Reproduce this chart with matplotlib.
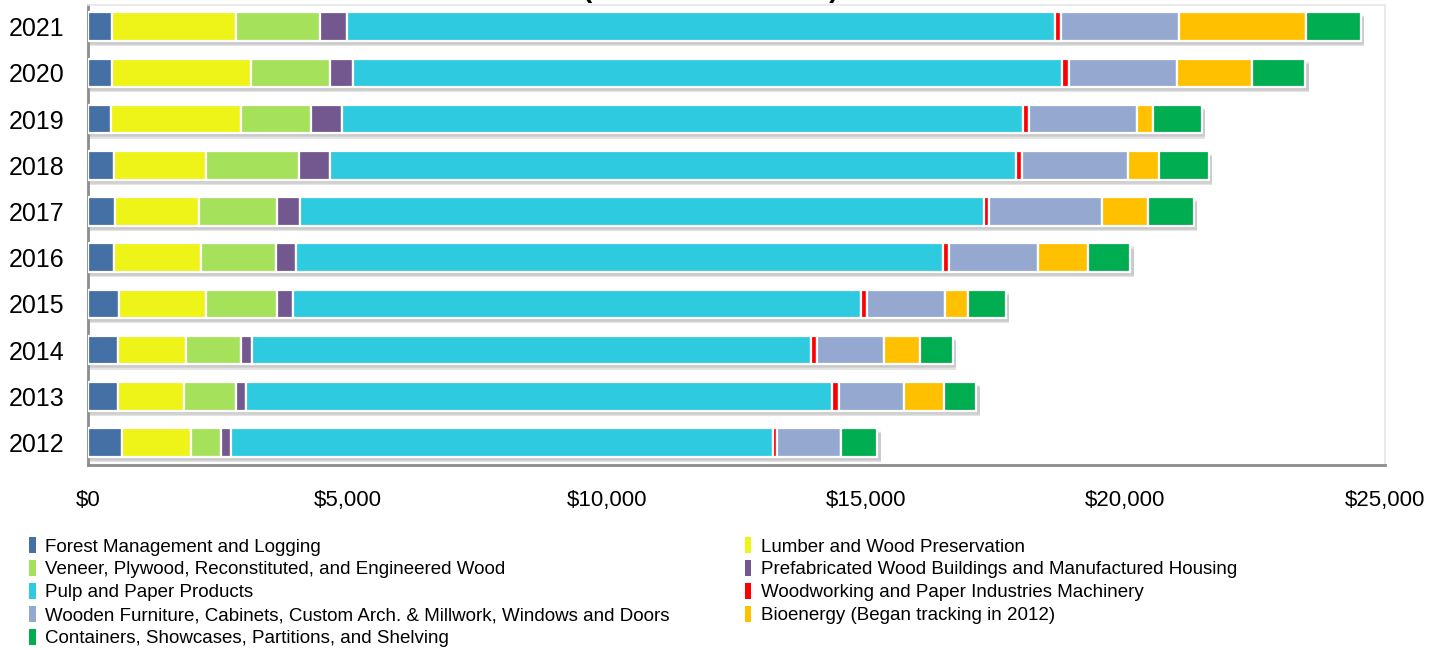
import numpy as np
import matplotlib
matplotlib.use("Agg")
import matplotlib.pyplot as plt
from matplotlib.ticker import FuncFormatter
from matplotlib.patches import Patch

plt.rcParams['font.family'] = ['Liberation Sans', 'DejaVu Sans']

years = ["2012", "2013", "2014", "2015", "2016", "2017", "2018", "2019", "2020", "2021"]

# values in $ millions (2012 -> 2021)
forest     = [656, 579, 579, 602, 502, 525, 505, 438, 469, 469]
lumber     = [1335, 1263, 1306, 1678, 1682, 1622, 1777, 2517, 2679, 2390]
veneer     = [580, 1017, 1072, 1366, 1443, 1503, 1775, 1347, 1507, 1607]
prefab     = [178, 185, 210, 309, 381, 434, 602, 598, 461, 534]
pulp       = [10447, 11306, 10764, 10950, 12471, 13186, 13238, 13121, 13667, 13648]
machinery  = [81, 121, 122, 118, 110, 105, 104, 119, 121, 116]
furniture  = [1233, 1252, 1300, 1501, 1717, 2181, 2055, 2076, 2099, 2274]
bioenergy  = [0, 776, 688, 440, 975, 874, 590, 309, 1431, 2438]
containers = [700, 621, 626, 725, 811, 885, 959, 945, 1032, 1061]

series = [forest, lumber, veneer, prefab, pulp, machinery, furniture, bioenergy, containers]
names = ["Forest Management and Logging",
         "Lumber and Wood Preservation",
         "Veneer, Plywood, Reconstituted, and Engineered Wood",
         "Prefabricated Wood Buildings and Manufactured Housing",
         "Pulp and Paper Products",
         "Woodworking and Paper Industries Machinery",
         "Wooden Furniture, Cabinets, Custom Arch. & Millwork, Windows and Doors",
         "Bioenergy (Began tracking in 2012)",
         "Containers, Showcases, Partitions, and Shelving"]
colors = ["#4470A6", "#EEF318", "#A6E15C", "#735890", "#2DCAE0",
          "#FF0000", "#95A9D0", "#FFC000", "#00AE51"]

fig = plt.figure(figsize=(14.44, 6.5), dpi=100)
ax = fig.add_axes([0.061, 0.285, 0.898, 0.708])

y = np.arange(len(years))
totals = np.sum(np.array(series), axis=0)

# soft shadow under each bar
for k, a in enumerate([0.10, 0.16, 0.22]):
    ax.barh(y - 0.06 - 0.025 * k, totals + 40, height=0.62, left=30,
            color="#808080", alpha=a, edgecolor="none", zorder=1)

left = np.zeros(len(years))
for vals, c in zip(series, colors):
    ax.barh(y, vals, left=left, height=0.62, color=c, edgecolor="white",
            linewidth=1.6, zorder=3)
    left += np.array(vals)

ax.set_xlim(0, 25000)
ax.set_ylim(-0.48, 9.48)
ax.set_yticks(y)
ax.set_yticklabels(years, fontsize=18)
ax.set_xticks([0, 5000, 10000, 15000, 20000, 25000])
ax.xaxis.set_major_formatter(FuncFormatter(lambda v, p: "${:,.0f}".format(v)))
ax.tick_params(axis="x", labelsize=16, length=0, pad=18)
ax.tick_params(axis="y", length=0, pad=17)

for s in ["top", "right"]:
    ax.spines[s].set_color("#e6e6e6")
    ax.spines[s].set_linewidth(1.2)
for s in ["left", "bottom"]:
    ax.spines[s].set_color("#8c8c8c")
    ax.spines[s].set_linewidth(2)

# title sits mostly above the top edge, as in the source image
fig.text(0.492, 1.0 + 3 / 650, "(Dollars in Millions)", ha="center", va="baseline",
         fontsize=20, fontweight="bold")

order = [0, 2, 4, 6, 8, 1, 3, 5, 7]
handles = [Patch(facecolor=colors[i], edgecolor="none") for i in order]
labels = [names[i] for i in order]
fig.legend(handles, labels, loc="upper left", bbox_to_anchor=(0.015, 0.185),
           ncol=2, frameon=False, fontsize=13.5, handlelength=0.35,
           handleheight=0.9, handletextpad=0.5, columnspacing=4.0,
           labelspacing=0.25, borderaxespad=0)

fig.savefig("out.png", dpi=100)
